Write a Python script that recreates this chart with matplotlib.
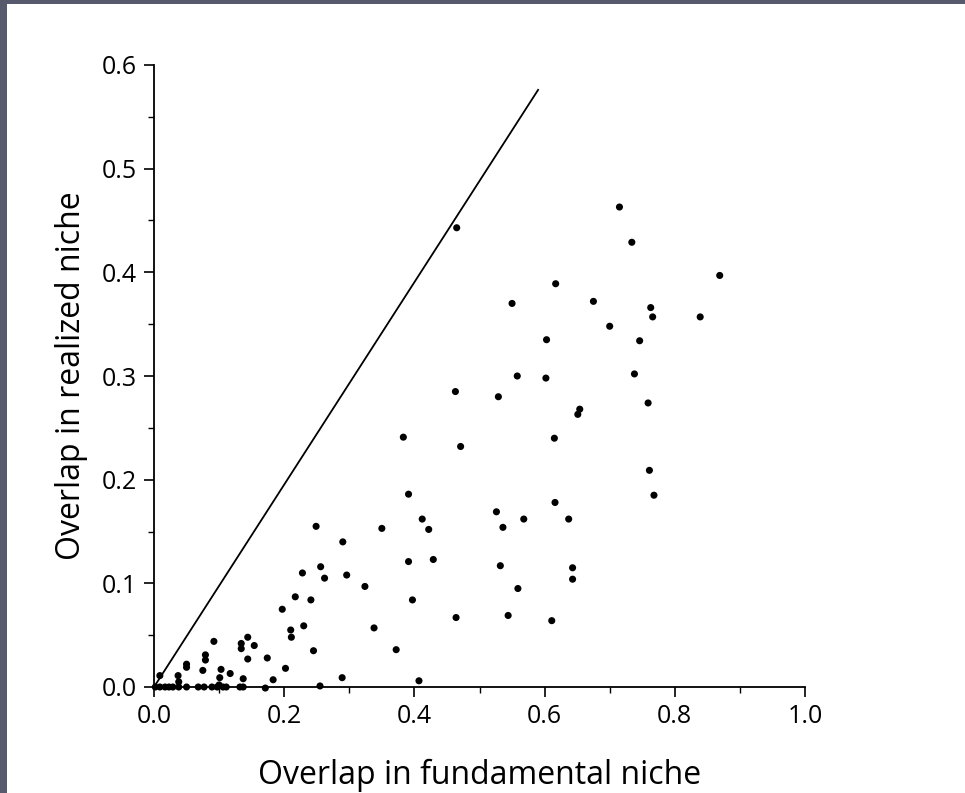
import matplotlib
matplotlib.use("Agg")
import matplotlib.pyplot as plt
from matplotlib.ticker import MultipleLocator

# Overlap in fundamental niche (x) vs overlap in realized niche (y)
fundamental = [
    0.715, 0.734, 0.617, 0.550, 0.675, 0.763, 0.766, 0.700, 0.603, 0.746,
    0.558, 0.602, 0.738, 0.529, 0.759, 0.654, 0.651, 0.615,
    0.383, 0.471, 0.391, 0.249, 0.412, 0.350, 0.422, 0.526, 0.290, 0.391,
    0.429, 0.228, 0.256, 0.262, 0.296, 0.324, 0.241, 0.397, 0.230, 0.338,
    0.464, 0.245, 0.372, 0.289, 0.255, 0.407,
    0.761, 0.768, 0.616, 0.568, 0.637, 0.536, 0.532, 0.643, 0.643, 0.559,
    0.544, 0.611,
    0.869, 0.839, 0.465, 0.463,
    0.197, 0.217, 0.210, 0.211, 0.092, 0.134, 0.134, 0.144, 0.154, 0.079,
    0.079, 0.050, 0.050, 0.144, 0.174, 0.075, 0.103, 0.117, 0.202, 0.009,
    0.037, 0.038, 0.101, 0.137, 0.183,
    0.002, 0.009, 0.017, 0.023, 0.029, 0.038, 0.050, 0.068, 0.077, 0.089,
    0.097, 0.100, 0.106, 0.111, 0.132, 0.137, 0.171,
]
realized = [
    0.463, 0.429, 0.389, 0.370, 0.372, 0.366, 0.357, 0.348, 0.335, 0.334,
    0.300, 0.298, 0.302, 0.280, 0.274, 0.268, 0.263, 0.240,
    0.241, 0.232, 0.186, 0.155, 0.162, 0.153, 0.152, 0.169, 0.140, 0.121,
    0.123, 0.110, 0.116, 0.105, 0.108, 0.097, 0.084, 0.084, 0.059, 0.057,
    0.067, 0.035, 0.036, 0.009, 0.001, 0.006,
    0.209, 0.185, 0.178, 0.162, 0.162, 0.154, 0.117, 0.115, 0.104, 0.095,
    0.069, 0.064,
    0.397, 0.357, 0.443, 0.285,
    0.075, 0.087, 0.055, 0.048, 0.044, 0.042, 0.037, 0.048, 0.040, 0.031,
    0.026, 0.022, 0.019, 0.027, 0.028, 0.016, 0.017, 0.013, 0.018, 0.011,
    0.011, 0.005, 0.009, 0.008, 0.007,
    0.000, 0.000, 0.000, 0.000, 0.000, 0.000, 0.000, 0.000, 0.000, 0.000,
    0.000, 0.002, 0.000, 0.000, 0.000, 0.000, -0.001,
]
line_x = [0.0, 0.590]
line_y = [0.0, 0.576]

x_ticks = [0.0, 0.2, 0.4, 0.6, 0.8, 1.0]
y_ticks = [0.0, 0.1, 0.2, 0.3, 0.4, 0.5, 0.6]

font = ["Open Sans", "DejaVu Sans"]
plt.rcParams["font.family"] = font

W, H = 965, 793
fig = plt.figure(figsize=(W / 100, H / 100), dpi=100)
fig.patch.set_facecolor("#575a6c")

# white page area (scan border on the left and top)
bg = fig.add_axes([7 / W, 0, 1 - 7 / W, 1 - 4 / H], zorder=-5)
bg.set_axis_off()
bg.add_patch(plt.Rectangle((0, 0), 1, 1, transform=bg.transAxes, color="white"))

ax = fig.add_axes([154 / W, 1 - 687 / H, (805 - 154) / W, (687 - 65) / H], zorder=1)
ax.set_facecolor("none")
ax.plot(line_x, line_y, color="black", lw=1.3)
ax.scatter(fundamental, realized, s=26, color="black", edgecolors="none", clip_on=False, zorder=3)

ax.set_xlim(0, 1.0)
ax.set_ylim(0, 0.6)
for s in ["top", "right"]:
    ax.spines[s].set_visible(False)
for s in ["left", "bottom"]:
    ax.spines[s].set_linewidth(1.3)

ax.set_xticks(x_ticks)
ax.set_xticklabels([f"{v:.1f}" for v in x_ticks])
ax.set_yticks(y_ticks)
ax.set_yticklabels([f"{v:.1f}" for v in y_ticks])
ax.xaxis.set_minor_locator(MultipleLocator(0.1))
ax.yaxis.set_minor_locator(MultipleLocator(0.05))
ax.tick_params(which="major", direction="out", length=7, width=1.2, labelsize=18, pad=5)
ax.tick_params(which="minor", direction="out", length=4, width=1.0)

ax.set_xlabel("Overlap in fundamental niche", fontsize=23, labelpad=22)
ax.set_ylabel("Overlap in realized niche", fontsize=23, labelpad=10)

fig.savefig("out.png", dpi=100)
